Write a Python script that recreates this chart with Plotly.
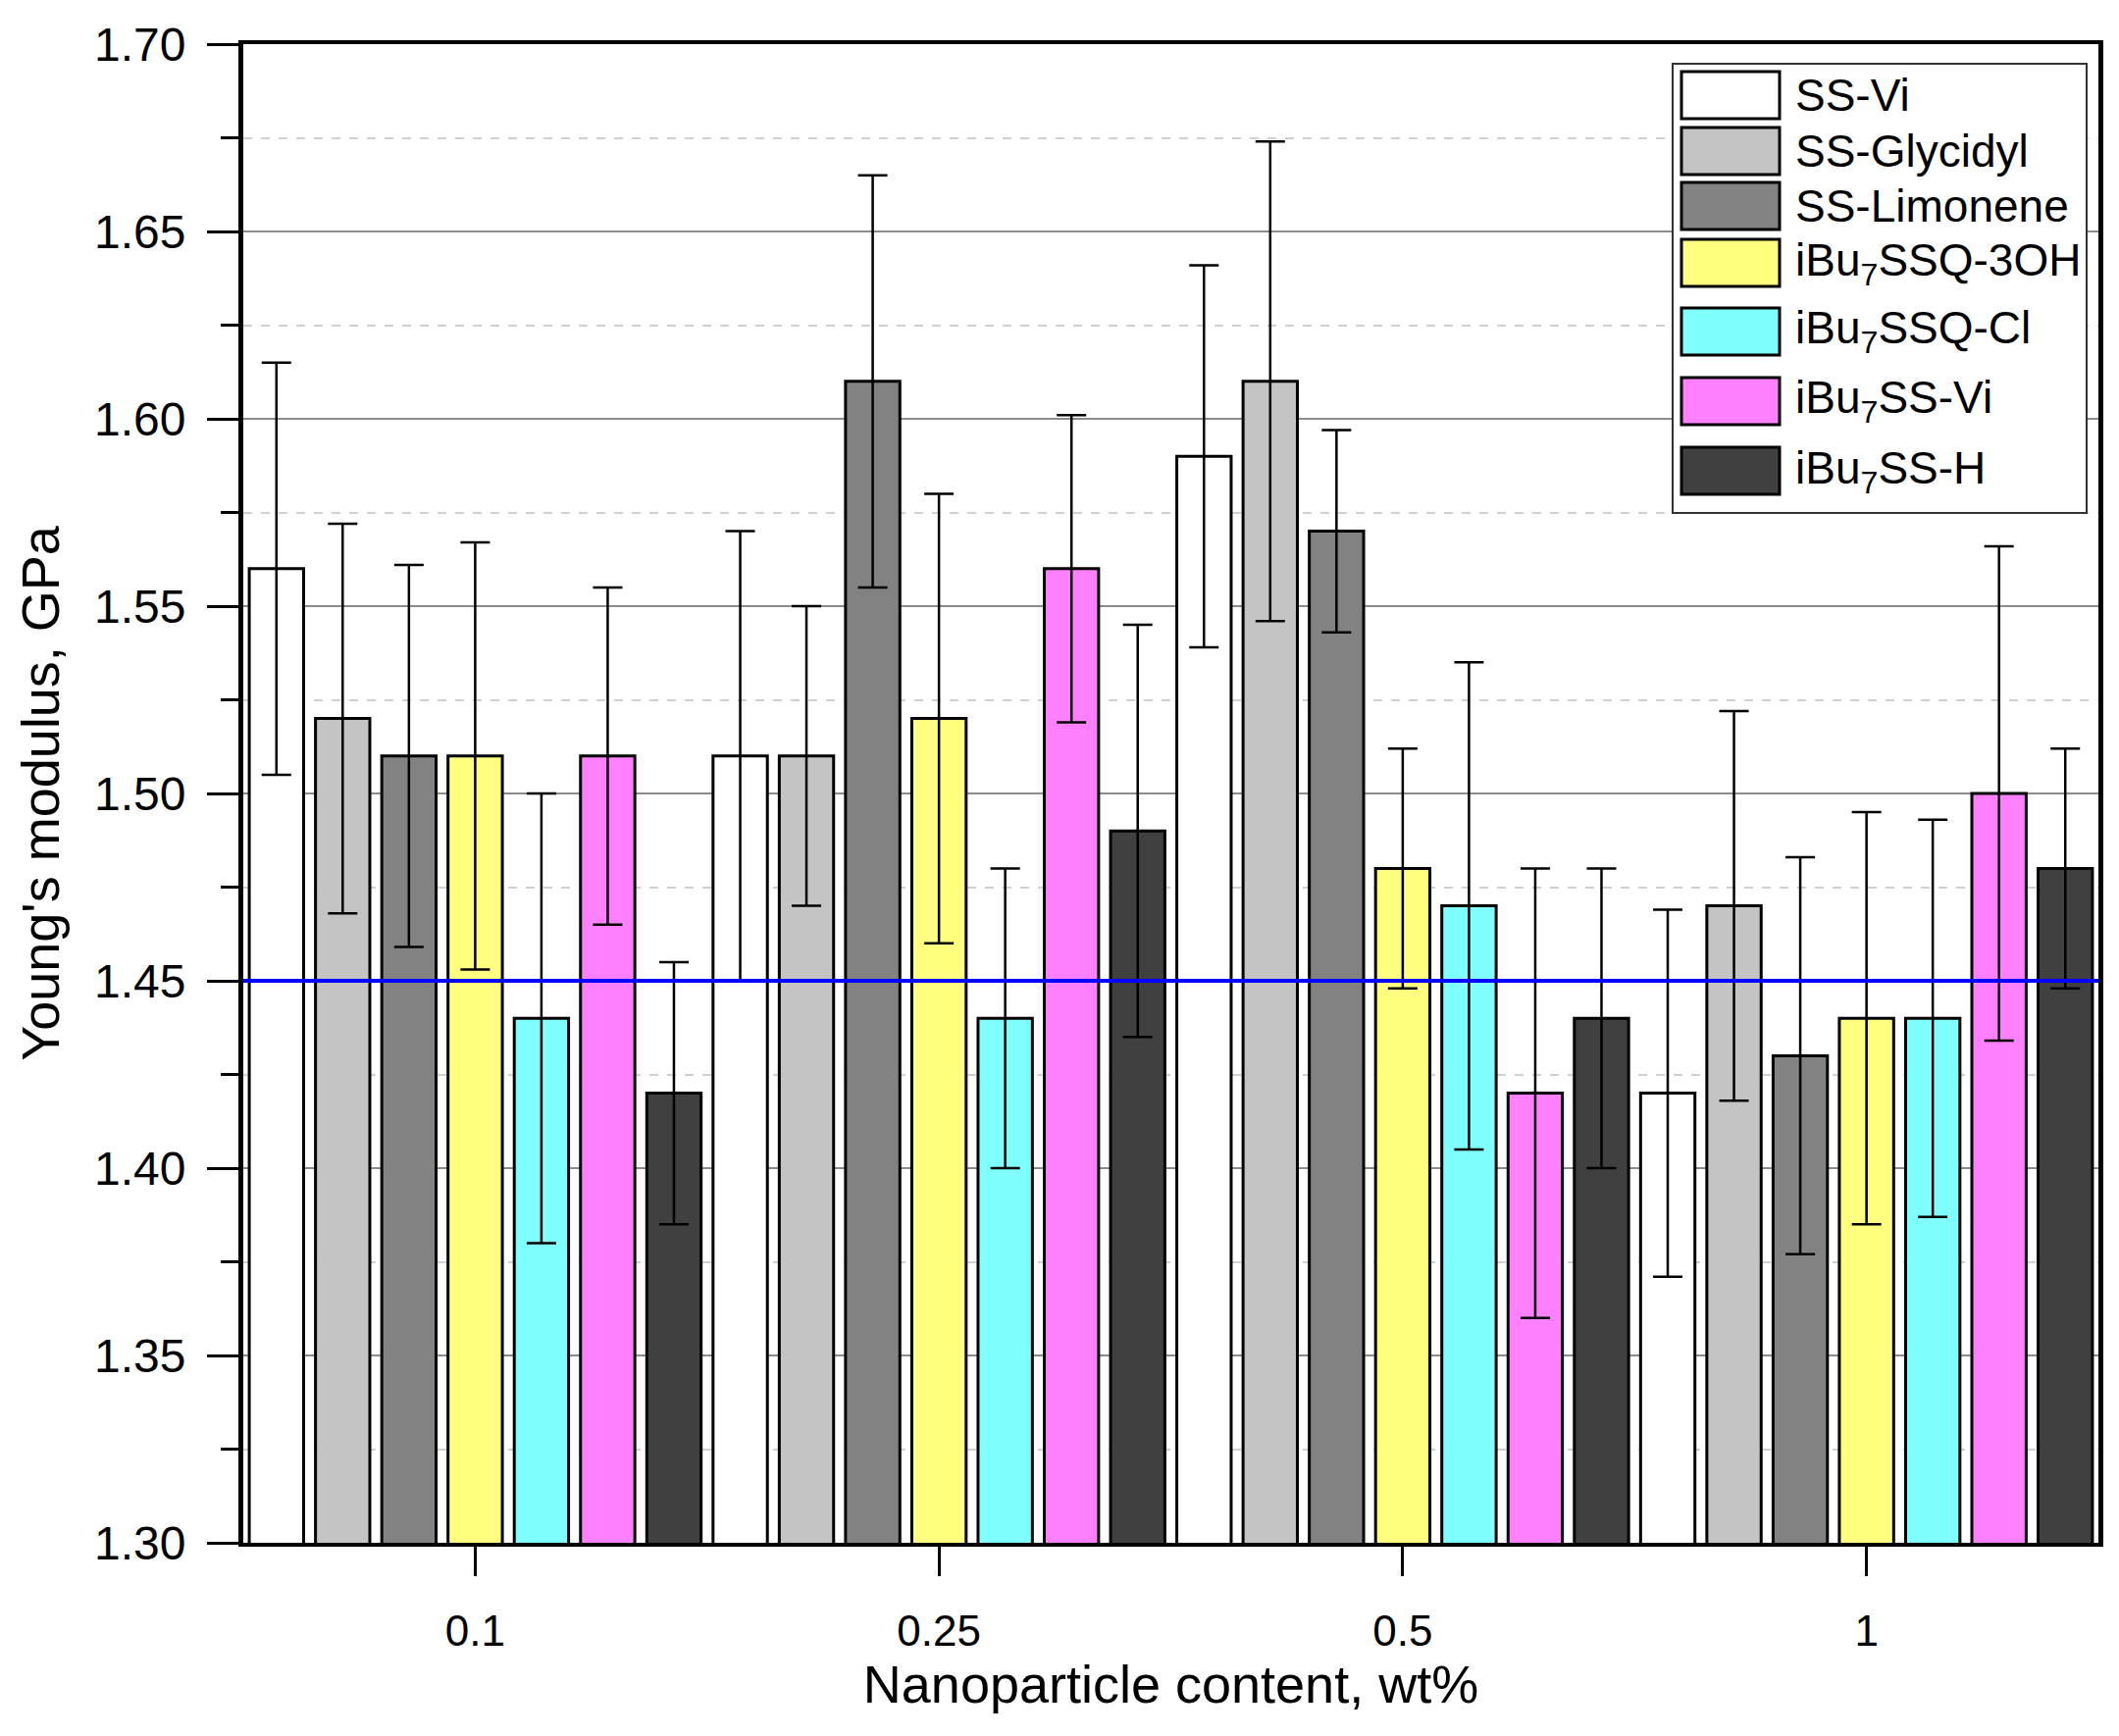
import plotly.graph_objects as go

categories = ["0.1", "0.25", "0.5", "1"]
series_names = ["SS-Vi", "SS-Glycidyl", "SS-Limonene", "iBu<sub>7</sub>SSQ-3OH",
                "iBu<sub>7</sub>SSQ-Cl", "iBu<sub>7</sub>SS-Vi", "iBu<sub>7</sub>SS-H"]
ss_vi = [1.56, 1.51, 1.59, 1.42]
ss_vi_err = [0.055, 0.06, 0.051, 0.049]
ss_glycidyl = [1.52, 1.51, 1.61, 1.47]
ss_glycidyl_err = [0.052, 0.04, 0.064, 0.052]
ss_limonene = [1.51, 1.61, 1.57, 1.43]
ss_limonene_err = [0.051, 0.055, 0.027, 0.053]
ssq_3oh = [1.51, 1.52, 1.48, 1.44]
ssq_3oh_err = [0.057, 0.06, 0.032, 0.055]
ssq_cl = [1.44, 1.44, 1.47, 1.44]
ssq_cl_err = [0.06, 0.04, 0.065, 0.053]
ss_vi7 = [1.51, 1.56, 1.42, 1.50]
ss_vi7_err = [0.045, 0.041, 0.06, 0.066]
ss_h = [1.42, 1.49, 1.44, 1.48]
ss_h_err = [0.035, 0.055, 0.04, 0.032]
reference_value = 1.45

values = [ss_vi, ss_glycidyl, ss_limonene, ssq_3oh, ssq_cl, ss_vi7, ss_h]
errors = [ss_vi_err, ss_glycidyl_err, ss_limonene_err, ssq_3oh_err, ssq_cl_err, ss_vi7_err, ss_h_err]
colors = ["#FFFFFF", "#C4C4C4", "#828282", "#FFFF80", "#80FFFF", "#FF80FF", "#404040"]

W, H = 2160, 1770
L, R, T, B = 248, 2139, 45, 1573

def px(x):
    return (x - L) / (R - L)

def py(y):
    return (B - y) / (B - T)

fig = go.Figure()
for name, v, e, c in zip(series_names, values, errors, colors):
    fig.add_trace(go.Bar(
        x=categories, y=v, name=name, showlegend=False,
        marker=dict(color=c, line=dict(color="black", width=3)),
        error_y=dict(type="data", array=e, color="black", thickness=2.5, width=15),
    ))

fig.add_shape(type="line", xref="paper", yref="y", x0=0, x1=1,
              y0=reference_value, y1=reference_value,
              line=dict(color="#0000FF", width=4), layer="above")

# custom legend
fig.add_shape(type="rect", xref="paper", yref="paper",
              x0=px(1705), x1=px(2127), y0=py(523), y1=py(65),
              line=dict(color="#333333", width=2), fillcolor="white", layer="above")
centers = [97, 154, 210, 268, 338, 409, 480]
for name, c, yc in zip(series_names, colors, centers):
    fig.add_shape(type="rect", xref="paper", yref="paper",
                  x0=px(1714), x1=px(1814), y0=py(yc + 24), y1=py(yc - 24),
                  line=dict(color="black", width=3), fillcolor=c, layer="above")
    fig.add_annotation(xref="paper", yref="paper", x=px(1828), y=py(yc),
                       text=name, showarrow=False, xanchor="left", yanchor="middle",
                       font=dict(size=46, color="black", family="Liberation Sans"))

fig.update_layout(
    width=W, height=H,
    margin=dict(l=L, r=W - R, t=T, b=H - B),
    paper_bgcolor="white", plot_bgcolor="white",
    barmode="group", bargap=0, bargroupgap=0.18,
    font=dict(family="Liberation Sans", color="black"),
    showlegend=False,
)
fig.update_xaxes(
    type="category", range=[-0.5, 3.5],
    showline=True, linecolor="black", linewidth=4, mirror=True,
    ticks="outside", ticklen=30, tickwidth=3, tickcolor="black",
    tickfont=dict(size=44), ticklabelstandoff=18,
    showgrid=False,
    title=dict(text="Nanoparticle content, wt%", font=dict(size=54), standoff=8),
)
fig.update_yaxes(
    range=[1.30, 1.70], dtick=0.05, tick0=1.30, tickformat=".2f",
    showline=True, linecolor="black", linewidth=5, mirror=True,
    ticks="outside", ticklen=32, tickwidth=3, tickcolor="black",
    tickfont=dict(size=48), ticklabelstandoff=12,
    showgrid=True, gridcolor="#8C8C8C", gridwidth=1.5, zeroline=False,
    minor=dict(dtick=0.025, tick0=1.30, ticks="outside", ticklen=18, tickwidth=3,
               tickcolor="black", showgrid=True, gridcolor="#D0D0D0", griddash="dash",
               gridwidth=1.5),
    title=dict(text="Young's modulus, GPa", font=dict(size=54), standoff=20),
)

fig.write_html("out.html")
